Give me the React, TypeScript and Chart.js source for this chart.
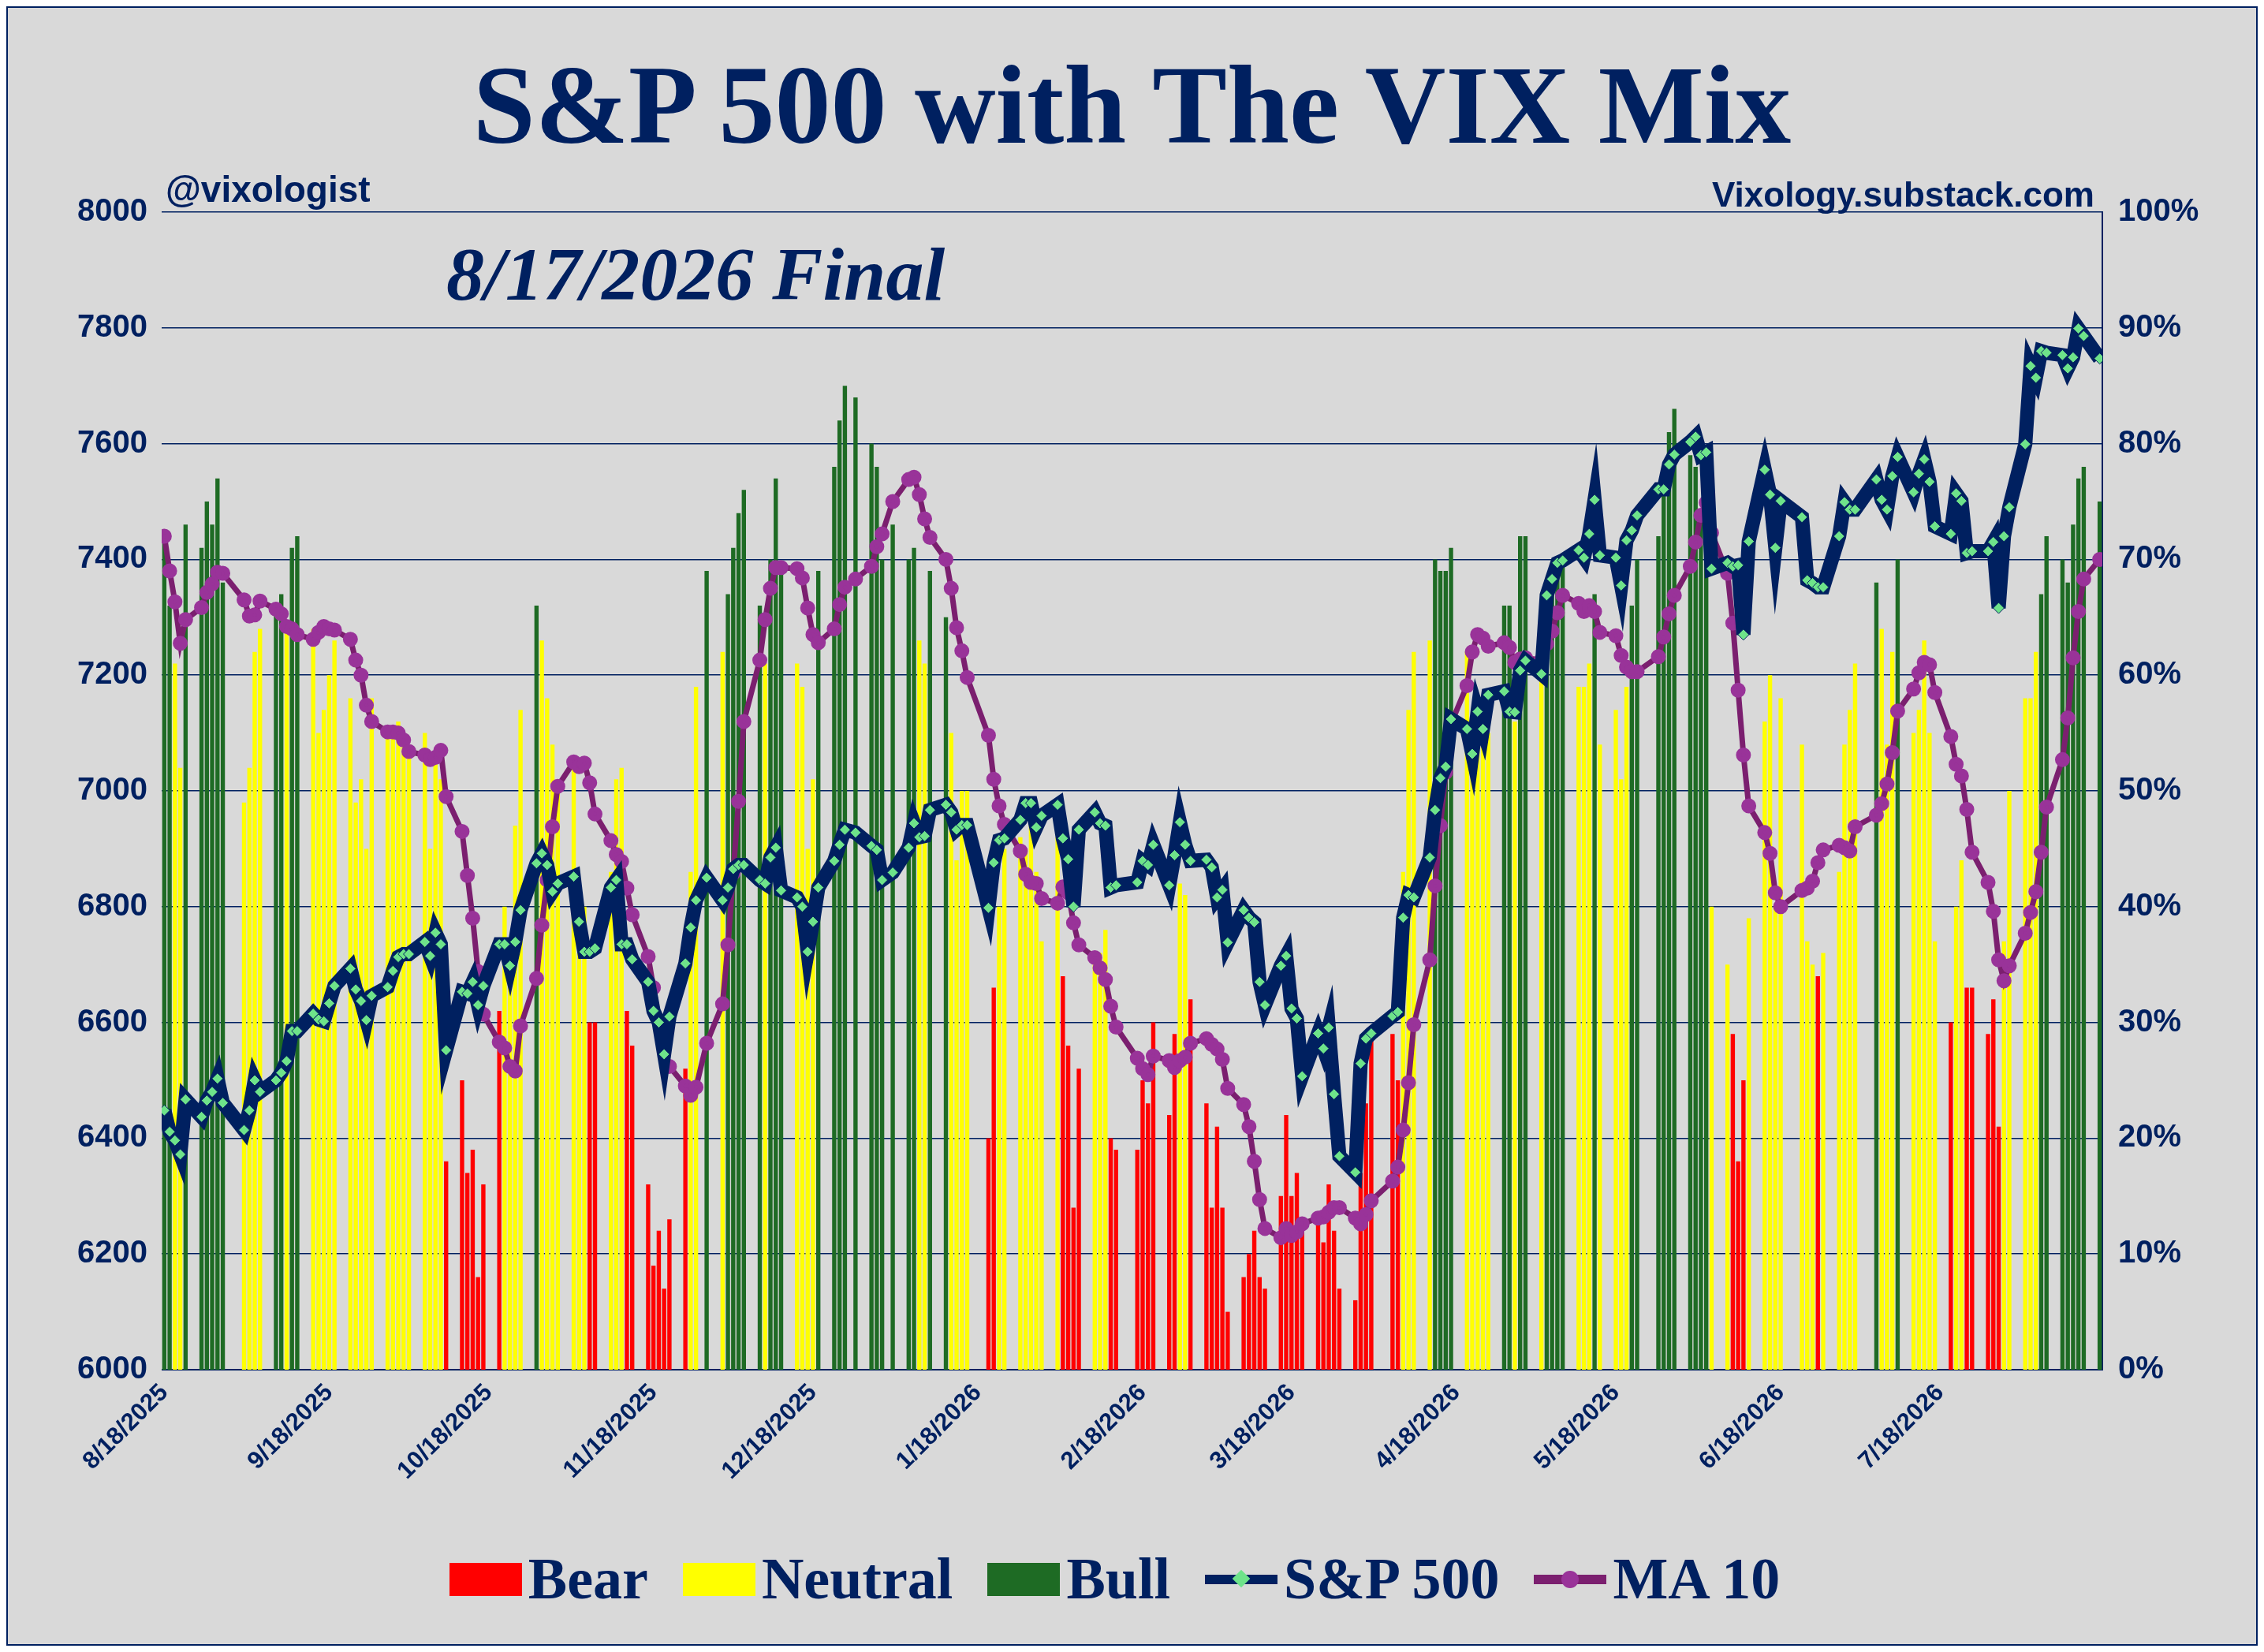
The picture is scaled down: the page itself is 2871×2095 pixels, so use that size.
import React, { useEffect, useRef } from 'react';
import { Chart, registerables } from 'chart.js';

Chart.register(...registerables);

// one entry per weekday from Mon 8/18/2025 to Mon 8/17/2026, null = market holiday
const vixMix: (number | null)[] = [
  72, 66, 61, 52, 73, 71, 75, 73, 77, 68, null, 49, 52, 62, 64, 66, 67, 64, 71, 72,
  64, 55, 57, 60, 63, 58, 49, 51, 45, 58, 55, 55, 56, 54, 53, 55, 45, 53, 51, 18,
  25, 17, 19, 8, 16, 31, 40, 37, 47, 57, 66, 63, 58, 54, 51, 52, 36, 40, 30, 30,
  43, 51, 52, 31, 28, 16, 9, 12, 7, 13, 26, 43, 59, null, 69, 62, 67, 71, 74, 76,
  66, 61, 70, 77, 69, 61, 59, 45, 51, 69, 78, 82, 85, null, 84, 80, 78, 70, null, 73,
  70, 71, 63, 61, 69, 65, 55, 44, 50, 50, null, 20, 33, 40, 45, 46, 45, 48, 43, 37,
  46, 34, 28, 14, 26, 35, 36, 38, 20, 19, null, 19, 25, 23, 30, 22, 29, 42, 41, 32,
  23, 14, 21, 14, 5, 8, 10, 12, 8, 7, 15, 22, 15, 17, 12, 13, 11, 16, 12, 7,
  6, 17, 23, 29, null, 29, 25, 43, 57, 62, 63, 70, 69, 69, 71, 62, 54, 58, 54, 55,
  66, 66, 56, 72, 72, 60, 68, 69, 70, 70, 59, 59, 61, 67, 54, 57, 51, 59, 66, 70,
  null, 72, 76, 81, 83, 79, 78, 74, 70, 40, 35, 29, 18, 25, 39, 56, 60, 40, 58, null,
  54, 37, 35, 34, 36, 43, 54, 57, 61, null, 68, 64, 54, 62, 70, 55, 57, 63, 55, 37,
  30, 40, 44, 33, 33, 29, 32, 21, 37, 50, 58, 58, 62, 67, 72, 70, 68, 73, 77, 78,
  75,
];

const spx: (number | null)[] = [
  6448, 6411, 6396, 6372, 6467, 6437, 6465, 6480, 6503, 6461, null, 6414, 6448, 6500, 6480, 6500, 6513, 6533, 6585, 6585,
  6615, 6605, 6602, 6633, 6663, 6693, 6657, 6637, 6604, 6646, 6661, 6689, 6713, 6718, 6718, 6739, 6715, 6755, 6735, 6552,
  6653, 6650, 6670, 6630, 6663, 6735, 6735, 6698, 6739, 6794, 6875, 6892, 6872, 6826, 6840, 6852, 6774, 6722, 6722, 6728,
  6833, 6846, 6735, 6735, 6709, 6670, 6620, 6600, 6545, 6610, 6702, 6764, 6811, null, 6850, 6811, 6833, 6865, 6872, 6872,
  6846, 6840, 6885, 6902, 6828, 6816, 6800, 6722, 6774, 6833, 6879, 6907, 6933, null, 6928, 6905, 6898, 6846, null, 6859,
  6902, 6944, 6920, 6922, 6967, 6976, 6963, 6933, 6941, 6941, null, 6798, 6876, 6915, 6918, 6950, 6979, 6979, 6937, 6957,
  6976, 6918, 6882, 6800, 6933, 6963, 6944, 6940, 6833, 6837, null, 6842, 6879, 6872, 6907, 6837, 6889, 6946, 6907, 6879,
  6881, 6868, 6816, 6829, 6738, 6794, 6781, 6773, 6670, 6630, 6698, 6715, 6624, 6607, 6507, 6581, 6555, 6591, 6476, 6369,
  6341, 6529, 6572, 6581, null, 6611, 6618, 6781, 6820, 6816, 6885, 6967, 7022, 7042, 7124, 7107, 7064, 7137, 7107, 7166,
  7172, 7137, 7136, 7208, 7225, 7202, 7338, 7366, 7394, 7398, 7416, 7403, 7444, 7503, 7407, 7403, 7355, 7433, 7450, 7476,
  null, 7521, 7521, 7564, 7581, 7603, 7612, 7580, 7585, 7384, 7394, 7388, 7390, 7270, 7431, 7555, 7512, 7420, 7501, null,
  7473, 7364, 7359, 7352, 7352, 7440, 7499, 7486, 7486, null, 7538, 7503, 7486, 7544, 7577, 7516, 7548, 7573, 7534, 7457,
  7444, 7514, 7501, 7411, 7414, 7414, 7430, 7316, 7440, 7490, 7599, 7734, 7714, 7760, 7757, 7753, 7730, 7749, 7799, 7786,
  7747,
];

const tickMonths = ['8/18/2025', '9/18/2025', '10/18/2025', '11/18/2025', '12/18/2025', '1/18/2026',
  '2/18/2026', '3/18/2026', '4/18/2026', '5/18/2026', '6/18/2026', '7/18/2026'];

const NAVY = '#002060';
const RED = '#ff0000';
const YELLOW = '#ffff00';
const GREEN = '#1e6b24';
const PURPLE = '#7b1f6f';

const START = Date.UTC(2025, 7, 18);
const dayOf = (s: string) => {
  const [m, d, y] = s.split('/').map(Number);
  return Math.round((Date.UTC(y, m - 1, d) - START) / 86400000);
};
const dayIdx = vixMix.map((_, i) => Math.floor(i / 5) * 7 + (i % 5));
const tickDays = tickMonths.map(dayOf);

const App: React.FC = () => {
  const chartRef = useRef<HTMLCanvasElement>(null);

  useEffect(() => {
    if (!chartRef.current) return;
    const bear: any[] = [], neutral: any[] = [], bull: any[] = [], spxPts: any[] = [], maPts: any[] = [];
    const hist: number[] = [];
    vixMix.forEach((v, i) => {
      const x = dayIdx[i];
      if (v != null) {
        (v < 35 ? bear : v >= 65 ? bull : neutral).push({ x, y: v });
        hist.push(v);
        const w = hist.slice(-10);
        maPts.push({ x, y: w.reduce((a, b) => a + b, 0) / w.length });
      }
      if (spx[i] != null) spxPts.push({ x, y: spx[i] });
    });
    const barOpts = { type: 'bar' as const, yAxisID: 'y1', grouped: false, barPercentage: 0.8, categoryPercentage: 1, order: 3 };
    const myChart = new Chart(chartRef.current, {
      type: 'bar',
      data: {
        datasets: [
          { ...barOpts, label: 'Bear', data: bear, backgroundColor: RED },
          { ...barOpts, label: 'Neutral', data: neutral, backgroundColor: YELLOW },
          { ...barOpts, label: 'Bull', data: bull, backgroundColor: GREEN },
          {
            type: 'line', label: 'S&P 500', data: spxPts, yAxisID: 'y', borderColor: NAVY, borderWidth: 18,
            pointStyle: 'rectRot', pointRadius: 7, pointBackgroundColor: '#6ee38a', pointBorderColor: NAVY,
            pointBorderWidth: 1, order: 1,
          },
          {
            type: 'line', label: 'MA 10', data: maPts, yAxisID: 'y1', borderColor: PURPLE, borderWidth: 7,
            pointRadius: 6, pointBackgroundColor: '#993399', pointBorderColor: '#993399', order: 2,
          },
        ] as any,
      },
      options: {
        animation: false,
        responsive: true,
        maintainAspectRatio: false,
        layout: { padding: { top: 259, left: 20, right: 20, bottom: 0 } },
        plugins: { legend: { display: false }, tooltip: { enabled: false } },
        scales: {
          x: {
            type: 'linear',
            offset: false,
            min: -0.5,
            max: 364.5,
            afterBuildTicks: (s: any) => { s.ticks = tickDays.map((v) => ({ value: v })); },
            afterFit: (s: any) => { s.height = 348; },
            grid: { display: false },
            border: { color: NAVY },
            ticks: {
              autoSkip: false, minRotation: 45, maxRotation: 45, color: NAVY,
              font: { family: 'Liberation Sans', weight: 'bold', size: 31 },
              callback: (v: any) => tickMonths[tickDays.indexOf(Number(v))] ?? '',
            },
          },
          y: {
            position: 'left', min: 6000, max: 8000,
            afterFit: (s: any) => { s.width = 175; },
            grid: { color: NAVY, lineWidth: 1.5, drawTicks: false },
            border: { color: NAVY, display: false },
            ticks: {
              stepSize: 200, color: NAVY, padding: 18, font: { family: 'Liberation Sans', weight: 'bold', size: 40 },
              callback: (v: any) => String(v),
            },
          },
          y1: {
            position: 'right', min: 0, max: 100,
            afterFit: (s: any) => { s.width = 175; },
            grid: { display: false },
            border: { color: NAVY, width: 2 },
            ticks: {
              stepSize: 10, color: NAVY, padding: 12, font: { family: 'Liberation Sans', weight: 'bold', size: 40 },
              callback: (v: any) => v + '%',
            },
          },
        },
      },
    });
    return () => { myChart.destroy(); };
  }, []);

  const legendText: React.CSSProperties = { fontFamily: 'Liberation Serif', fontWeight: 'bold', fontSize: 74, color: NAVY, marginRight: 44 };
  const box = (c: string) => <div style={{ width: 92, height: 42, background: c, marginRight: 8 }} />;
  const lineMark = (c: string, mark: React.ReactNode) => (
    <div style={{ position: 'relative', width: 92, height: 40, marginRight: 8 }}>
      <div style={{ position: 'absolute', left: 0, right: 0, top: 14, height: 12, background: c }} />
      {mark}
    </div>
  );

  return (
    <div style={{ position: 'relative', width: 2851, height: 2075, border: `2px solid ${NAVY}`, background: '#d9d9d9' }}>
      <canvas ref={chartRef} style={{ position: 'absolute', left: 0, top: 0 }} />
      <div style={{ position: 'absolute', left: 0, right: 0, top: 52, textAlign: 'center', fontFamily: 'Liberation Serif', fontWeight: 'bold', fontSize: 142, color: NAVY, lineHeight: 1 }}>
        S&amp;P 500 with The VIX Mix
      </div>
      <div style={{ position: 'absolute', left: 200, top: 203, fontFamily: 'Liberation Sans', fontWeight: 'bold', fontSize: 46, color: NAVY }}>@vixologist</div>
      <div style={{ position: 'absolute', right: 205, top: 212, fontFamily: 'Liberation Sans', fontWeight: 'bold', fontSize: 44, color: NAVY }}>Vixology.substack.com</div>
      <div style={{ position: 'absolute', left: 556, top: 290, fontFamily: 'Liberation Serif', fontWeight: 'bold', fontStyle: 'italic', fontSize: 96, color: NAVY, lineHeight: 1 }}>8/17/2026 Final</div>
      <div style={{ position: 'absolute', left: 0, right: 0, top: 1950, display: 'flex', justifyContent: 'center', alignItems: 'center' }}>
        {box(RED)}<span style={legendText}>Bear</span>
        {box(YELLOW)}<span style={legendText}>Neutral</span>
        {box(GREEN)}<span style={legendText}>Bull</span>
        {lineMark(NAVY, <div style={{ position: 'absolute', left: 38, top: 11, width: 16, height: 16, background: '#6ee38a', transform: 'rotate(45deg)' }} />)}
        <span style={legendText}>S&amp;P 500</span>
        {lineMark(PURPLE, <div style={{ position: 'absolute', left: 35, top: 9, width: 22, height: 22, borderRadius: 11, background: '#993399' }} />)}
        <span style={legendText}>MA 10</span>
      </div>
    </div>
  );
};

export default App;
